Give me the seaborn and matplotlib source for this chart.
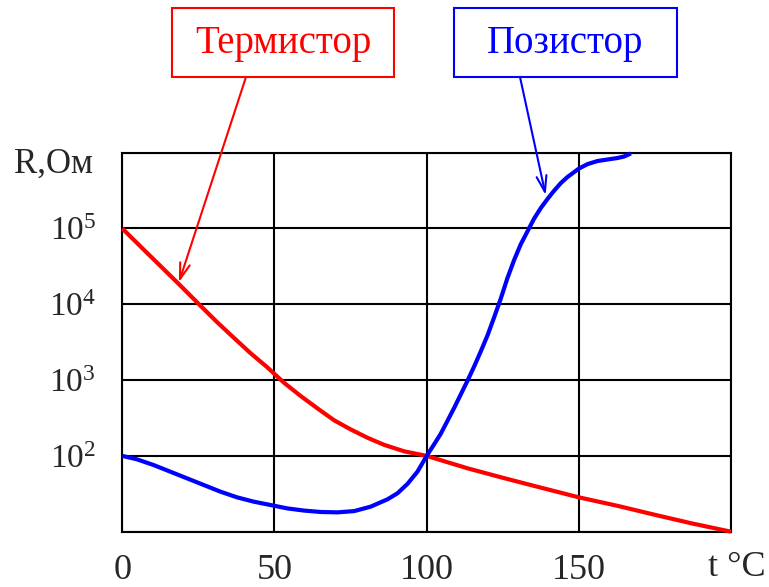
import matplotlib
matplotlib.use("Agg")
import matplotlib.pyplot as plt
from matplotlib.patches import Rectangle
from matplotlib.ticker import NullLocator
import seaborn as sns
import pandas as pd

# ---- data ----
thermistor_t = [0, 5.8, 12.4, 19, 25, 31, 36.6, 42, 47.6, 53, 58.6, 64, 69.6, 75, 80.5,
                86, 92.6, 100, 113.5, 124.5, 135.4, 150, 162.8, 175, 187, 200]
thermistor_r = [1e5, 5.89e4, 3.24e4, 1.78e4, 1.02e4, 5890, 3631, 2291, 1479, 933, 617,
                427, 295, 224, 174, 140, 115, 100, 68.5, 52.1, 40.1, 28.4, 21.9, 16.7,
                12.9, 10]

posistor_t = [0, 4.7, 10.2, 15.7, 21.2, 26.7, 32.2, 37.7, 43.2, 48.7, 54.2, 59.7, 65.2,
              70.7, 76.2, 81.6, 87.1, 90.4, 93.7, 97, 100, 102.4, 104.6, 106.8, 109,
              111.2, 113.4, 115.6, 117.8, 120, 122.1, 124.3, 126.5, 128.7, 130.9, 133.1,
              135.3, 137.5, 139.7, 141.9, 144.1, 146.3, 148.5, 150, 152.9, 156.1, 159.4,
              162.7, 164.9, 167.1]
posistor_r = [100, 90.4, 76.0, 62.1, 50.7, 41.4, 33.8, 28.4, 24.9, 22.5, 20.3, 19.0, 18.2,
              18.0, 18.7, 21.4, 26.7, 32.1, 42.7, 62.1, 100, 141, 195, 288, 427,
              646, 977, 1510, 2400, 3890, 6610, 11700, 21900, 38000, 61700, 91200,
              135000, 186000, 245000, 316000, 398000, 479000, 556000, 617000, 708000,
              776000, 813000, 851000, 891000, 977000]

x_ticks = [0, 50, 100, 150, 200]
x_tick_labels = ["0", "50", "100", "150", ""]
y_ticks = [10, 1e2, 1e3, 1e4, 1e5, 1e6]
y_tick_labels = ["", r"$\mathregular{10^2}$", r"$\mathregular{10^3}$",
                 r"$\mathregular{10^4}$", r"$\mathregular{10^5}$", ""]

label_thermistor = "Термистор"
label_posistor = "Позистор"
y_label = "R,Ом"
x_label = "t °C"

sns.set_style("white")
plt.rcParams["font.family"] = ["Liberation Serif", "DejaVu Serif"]
plt.rcParams["mathtext.fontset"] = "custom"
plt.rcParams["mathtext.rm"] = "Liberation Serif"
plt.rcParams["mathtext.it"] = "Liberation Serif:italic"
plt.rcParams["mathtext.bf"] = "Liberation Serif:bold"

W, H = 769, 587
fig = plt.figure(figsize=(W / 100, H / 100), dpi=100)
ax = fig.add_axes([122.3 / W, 1 - 531.7 / H, (731 - 122.3) / W, (531.7 - 152.7) / H])

df_t = pd.DataFrame({"t": thermistor_t, "R": thermistor_r})
df_p = pd.DataFrame({"t": posistor_t, "R": posistor_r})

sns.lineplot(data=df_t, x="t", y="R", ax=ax, color="#ff0000", linewidth=3,
             solid_capstyle="butt", solid_joinstyle="round", clip_on=False, zorder=3)
sns.lineplot(data=df_p, x="t", y="R", ax=ax, color="#0000ff", linewidth=3,
             solid_capstyle="butt", solid_joinstyle="round", clip_on=False, zorder=3)

ax.set_yscale("log")
ax.set_xlim(0, 200)
ax.set_ylim(10, 1e6)
ax.set_xticks(x_ticks)
ax.set_xticklabels(x_tick_labels, fontsize=26)
ax.set_yticks(y_ticks)
ax.set_yticklabels(y_tick_labels, fontsize=24)
ax.yaxis.set_minor_locator(NullLocator())
ax.tick_params(axis="both", length=0)
ax.tick_params(axis="x", pad=16)
ax.tick_params(axis="y", pad=19)
ax.set_xlabel("")
ax.set_ylabel("")
ax.set_axisbelow(True)
ax.grid(True, color="black", linewidth=1.5)
for s in ax.spines.values():
    s.set_visible(True)
    s.set_color("black")
    s.set_linewidth(1.5)

fig.text(14 / W, 1 - 164 / H, y_label, fontsize=25, ha="left", va="center")
fig.text(737 / W, 1 - 568 / H, x_label, fontsize=26, ha="center", va="center")

# annotation boxes
def box(x0, y0, x1, y1, color, text, tx):
    fig.add_artist(Rectangle((x0 / W, 1 - y1 / H), (x1 - x0) / W, (y1 - y0) / H,
                             transform=fig.transFigure, fill=False, edgecolor=color,
                             linewidth=1.5))
    fig.text(tx / W, 1 - 53.5 / H, text, color=color, fontsize=28,
             ha="center", va="baseline")

box(172, 8, 394, 77, "#ff0000", label_thermistor, 283)
box(454, 8, 677, 77, "#0000ff", label_posistor, 565)

arrow = "->,head_length=1.15,head_width=0.36"
ax.annotate("", xy=(18.6, 10 ** 4.29), xycoords="data",
            xytext=(246 / W, 1 - 77 / H), textcoords="figure fraction",
            arrowprops=dict(arrowstyle=arrow, color="#ff0000", lw=1.5,
                            shrinkA=0, shrinkB=0, mutation_scale=10),
            annotation_clip=False)
ax.annotate("", xy=(139.1, 10 ** 5.44), xycoords="data",
            xytext=(520 / W, 1 - 77 / H), textcoords="figure fraction",
            arrowprops=dict(arrowstyle=arrow, color="#0000ff", lw=1.5,
                            shrinkA=0, shrinkB=0, mutation_scale=10),
            annotation_clip=False)

fig.savefig("out.png", dpi=100)
